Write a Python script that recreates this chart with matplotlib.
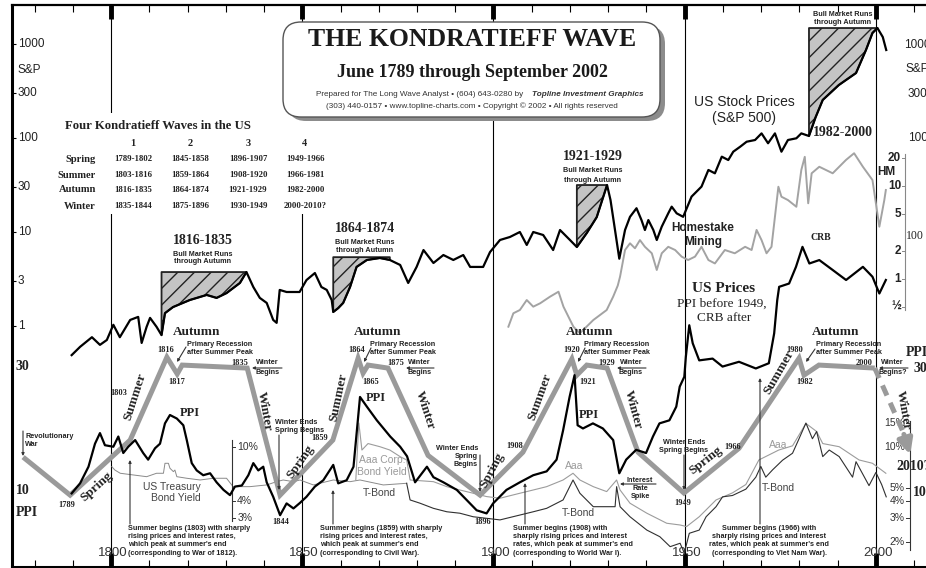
import numpy as np
import matplotlib.pyplot as plt
from matplotlib.patches import FancyBboxPatch, FancyArrowPatch, Rectangle
from matplotlib.transforms import IdentityTransform
from matplotlib.ticker import NullLocator

# ---- data ----
sp_years = [1789.7, 1791.9, 1795.0, 1797.1, 1798.9, 1800.6, 1802.3, 1805.0, 1807.1, 1808.0,
            1809.3, 1810.2, 1811.9, 1813.2, 1814.1, 1816.2, 1820.6, 1825.0, 1827.6, 1830.2,
            1833.7, 1835.4, 1837.2, 1838.9, 1840.7, 1842.4, 1843.3, 1844.1, 1845.9, 1849.3,
            1851.1, 1853.3, 1855.0, 1856.4, 1857.7, 1858.1, 1859.4, 1860.7, 1862.5, 1864.2,
            1866.9, 1870.3, 1872.9, 1875.6, 1877.7, 1879.9, 1881.7, 1884.3, 1886.9, 1889.5,
            1892.1, 1893.9, 1897.3, 1899.1, 1901.7, 1904.3, 1906.9, 1908.7, 1910.4, 1913.0,
            1915.6, 1917.4, 1920.0, 1921.8, 1924.4, 1927.0, 1929.7, 1930.6, 1931.5, 1932.9,
            1934.4, 1935.7, 1937.4, 1938.7, 1939.6, 1940.5, 1941.8, 1942.7, 1944.0, 1945.7,
            1946.6, 1947.9, 1949.6, 1951.8, 1954.4, 1956.2, 1957.9, 1959.7, 1961.4, 1962.7,
            1964.5, 1966.2, 1968.4, 1970.1, 1971.8, 1973.6, 1975.3, 1977.0, 1979.2, 1980.5,
            1982.5, 1984.2, 1986.1, 1990.3, 1994.8, 1997.4, 1999.1, 2000.4, 2001.8, 2002.7]
sp_vals = [0.49, 0.60, 0.76, 0.63, 0.71, 1.03, 0.76, 1.16, 1.25, 0.66,
           0.98, 1.22, 0.98, 0.80, 1.37, 1.59, 1.89, 2.14, 1.99, 2.24,
           2.87, 3.75, 2.60, 1.99, 1.76, 1.16, 1.08, 2.42, 2.30, 2.30,
           3.08, 3.66, 2.60, 2.42, 1.89, 1.41, 1.55, 1.76, 2.60, 4.25,
           5.04, 5.29, 5.04, 4.46, 2.87, 4.25, 6.43, 4.68, 5.69, 5.04,
           5.69, 4.25, 4.25, 6.12, 8.22, 8.85, 10.0, 7.28, 10.0, 9.29,
           6.43, 10.5, 8.22, 6.92, 9.76, 14.4, 31.6, 21.9, 12.5, 5.2,
           10.5, 14.5, 17.9, 13.4, 10.5, 13.4, 10.5, 8.22, 11.4, 15.8,
           18.6, 15.8, 14.5, 23.8, 30.4, 45.7, 42.1, 63.3, 58.3, 71.5,
           80.7, 91.3, 95.2, 112, 87.9, 112, 71.5, 95.2, 99.3, 112,
           105, 165, 254, 366, 491, 863, 1309, 1479, 1186, 863]

bull_markets = [(1813.2, 1835.4, 3.75), (1858.1, 1872.9, 5.4),
                (1921.8, 1929.7, 31.6), (1982.5, 2000.4, 1479)]

ppi_years = [1789.7, 1791.9, 1794.1, 1795.8, 1797.1, 1798.4, 1800.6, 1801.9, 1803.2, 1804.5,
             1806.3, 1808.4, 1809.7, 1811.5, 1812.8, 1814.1, 1815.4, 1817.2, 1818.9, 1819.8,
             1821.1, 1822.4, 1824.1, 1825.9, 1827.6, 1829.4, 1831.1, 1832.4, 1834.2, 1835.9,
             1837.2, 1838.5, 1839.8, 1840.7, 1842.4, 1844.2, 1845.9, 1847.7, 1849.4, 1851.1,
             1853.3, 1855.5, 1858.1, 1859.4, 1861.6, 1863.4, 1865.1, 1866.9, 1869.5, 1873.0,
             1875.6, 1877.4, 1879.5, 1882.6, 1884.3, 1886.9, 1890.4, 1893.0, 1895.6, 1898.2,
             1899.9, 1903.4, 1906.9, 1910.4, 1913.9, 1916.5, 1918.2, 1919.9, 1921.2, 1922.0,
             1923.4, 1926.0, 1928.6, 1931.3, 1932.9, 1934.7, 1937.3, 1939.9, 1941.7, 1943.4,
             1946.0, 1947.8, 1948.7, 1949.9, 1950.3, 1951.2, 1952.1, 1953.8, 1957.3, 1959.9,
             1964.2, 1968.6, 1972.0, 1973.4, 1974.2, 1974.7, 1977.3, 1979.1, 1980.8, 1982.6,
             1985.2, 1988.7, 1992.2, 1996.6, 1999.1, 2000.9, 2002.6]
ppi_vals = [9.79, 10.7, 12.4, 15.2, 16.7, 15.0, 14.8, 16.2, 14.0, 14.8,
            15.7, 14.0, 13.2, 14.6, 15.2, 18.2, 19.6, 19.0, 17.9, 15.7,
            12.8, 12.0, 11.5, 11.7, 10.8, 10.1, 9.64, 10.4, 10.5, 11.5,
            12.8, 12.0, 12.4, 10.8, 9.50, 8.07, 8.96, 8.57, 9.0, 9.5,
            10.4, 11.0, 12.6, 10.7, 11.0, 12.4, 23.0, 21.1, 18.7, 16.2,
            14.8, 13.6, 10.8, 12.4, 11.3, 10.8, 10.1, 9.23, 8.43, 8.20,
            8.96, 10.1, 10.8, 11.5, 11.9, 13.2, 17.1, 23.0, 27.9, 17.9,
            17.4, 18.2, 17.4, 15.7, 11.7, 13.2, 14.4, 14.0, 16.2, 18.2,
            18.7, 21.1, 25.2, 27.5, 32.8, 43.4, 37.0, 31.8, 32.3, 30.1,
            31.4, 29.6, 31.0, 40.4, 54.2, 61.0, 62.8, 72.8, 86.9, 75.0,
            77.3, 70.8, 64.8, 72.8, 66.7, 57.5, 64.8]

wave_years = [1777.0, 1789.3, 1805.0, 1814.6, 1817.3, 1818.6, 1835.6, 1844.2, 1858.0, 1864.6,
              1865.9, 1867.2, 1872.4, 1882.9, 1896.5, 1907.7, 1920.5, 1921.8, 1924.4, 1929.7,
              1937.8, 1949.8, 1964.2, 1979.9, 1981.2, 1985.1, 1999.7]
wave_vals = [13.5, 9.64, 15.7, 32.7, 28.2, 30.5, 29.7, 9.64, 15.7, 32.4,
             28.4, 30.5, 29.7, 13.7, 9.64, 14.1, 32.2, 27.9, 30.5, 29.7,
             14.1, 9.82, 14.6, 32.4, 27.9, 30.5, 29.7]
forecast_years = [1999.7, 2007.1, 2009.2]
forecast_vals = [29.7, 16.9, 13.5]

treasury_years = [1800.2, 1801.0, 1802.4, 1805.8, 1809.3, 1811.9, 1813.7, 1814.1, 1815.0, 1815.4,
                  1816.3, 1816.7, 1817.2, 1819.8, 1823.3, 1826.7, 1830.2, 1831.9, 1836.3, 1840.7,
                  1843.3, 1845.0, 1847.7, 1849.4, 1852.9, 1854.6, 1858.1, 1862.5, 1865.1, 1871.2,
                  1877.3]
treasury_vals = [7.17, 6.77, 6.41, 6.23, 6.05, 6.41, 6.41, 7.59, 7.59, 6.98,
                 6.59, 6.77, 6.05, 5.89, 5.72, 5.89, 5.89, 5.11, 5.11, 5.26,
                 5.56, 5.72, 5.56, 5.72, 5.26, 5.41, 5.72, 5.56, 5.72, 5.26,
                 5.41]

tbond_years = [1877.3, 1878.2, 1880.8, 1884.3, 1887.8, 1891.2, 1894.7, 1898.2, 1901.7, 1903.4,
               1906.9, 1910.4, 1913.9, 1918.2, 1920.8, 1922.6, 1926.1, 1929.6, 1931.8, 1932.2,
               1933.1, 1935.7, 1940.1, 1943.5, 1946.2, 1948.8, 1949.9, 1951.2, 1953.8, 1955.6,
               1958.2, 1959.9, 1962.5, 1966.0, 1968.6, 1969.9, 1971.2, 1973.0, 1975.6, 1978.2,
               1979.9, 1981.7, 1983.4, 1984.5, 1986.1, 1987.8, 1990.4, 1993.9, 1994.8, 1998.2,
               2000.0, 2001.5, 2002.7]
tbond_vals = [5.41, 4.08, 3.86, 3.54, 3.34, 3.26, 3.07, 2.99, 2.91, 2.99,
              3.16, 3.34, 3.54, 4.08, 5.72, 4.57, 3.64, 3.64, 3.64, 5.11,
              3.64, 3.07, 2.45, 2.19, 1.85, 1.96, 1.66, 2.32, 2.45, 3.07,
              3.64, 4.3, 4.4, 4.9, 6.0, 7.2, 6.0, 6.8, 8.0, 9.0,
              11.5, 15.0, 11.5, 13.0, 8.5, 9.5, 8.5, 6.0, 7.8, 5.2,
              6.5, 5.3, 4.3]

aaa_years = [1864.0, 1864.8, 1865.6, 1867.2, 1870.3, 1872.9, 1875.6, 1877.3, 1878.2, 1884.3,
             1887.8, 1891.2, 1894.7, 1898.2, 1901.7, 1906.9, 1910.4, 1913.9, 1918.2, 1920.8,
             1922.6, 1926.1, 1929.6, 1932.2, 1933.1, 1935.7, 1940.1, 1945.3, 1948.8, 1950.5,
             1953.8, 1958.2, 1962.5, 1966.0, 1969.4, 1974.6, 1978.2, 1981.7, 1984.5, 1986.1,
             1990.4, 1995.6, 1999.1, 2002.6]
aaa_vals = [5.72, 15.0, 9.5, 10.6, 10.05, 9.5, 8.49, 8.03, 5.72, 5.56,
            5.11, 4.83, 4.57, 4.32, 4.20, 4.57, 4.83, 5.11, 5.72, 6.41,
            5.72, 5.11, 4.70, 5.72, 4.83, 3.86, 3.26, 2.75, 2.67, 2.60,
            3.07, 4.08, 4.6, 5.3, 8.03, 9.5, 10.2, 14.9, 13.0, 10.6,
            10.05, 8.03, 7.59, 6.41]

hm_years = [1903.9, 1905.2, 1906.9, 1908.7, 1910.4, 1912.2, 1914.8, 1917.0, 1918.3, 1920.9,
            1922.6, 1926.1, 1929.6, 1931.3, 1932.5, 1933.1, 1934.4, 1935.7, 1937.0, 1938.3,
            1939.6, 1941.4, 1942.7, 1944.0, 1945.7, 1947.5, 1949.2, 1950.9, 1952.7, 1954.4,
            1956.2, 1957.9, 1960.5, 1963.1, 1965.8, 1967.5, 1968.8, 1970.1, 1971.4, 1972.7,
            1974.5, 1975.3, 1977.0, 1979.2, 1980.5, 1981.4, 1982.3, 1983.2, 1985.2, 1988.7,
            1992.2, 1994.3, 1996.6, 1999.1, 2000.9, 2002.2, 2002.6]
hm_vals = [0.307, 0.428, 0.464, 0.594, 0.504, 0.548, 0.646, 0.730, 0.504, 0.307,
           0.261, 0.362, 0.464, 0.646, 0.85, 1.06, 2.05, 2.42, 2.14, 2.62,
           2.22, 1.89, 1.25, 1.89, 2.22, 2.05, 1.74, 1.60, 1.74, 2.22,
           1.60, 1.47, 2.05, 1.89, 2.22, 2.05, 3.37, 2.62, 1.89, 2.22,
           9.82, 7.67, 7.06, 5.98, 14.9, 20.6, 6.52, 13.7, 16.1, 13.7,
           19.1, 22.5, 16.1, 11.6, 3.65, 7.06, 9.06]

table_cols = ['1', '2', '3', '4']
table_rows = ['Spring', 'Summer', 'Autumn', 'Winter']
table_cells = [['1789-1802', '1845-1858', '1896-1907', '1949-1966'],
               ['1803-1816', '1859-1864', '1908-1920', '1966-1981'],
               ['1816-1835', '1864-1874', '1921-1929', '1982-2000'],
               ['1835-1844', '1875-1896', '1930-1949', '2000-2010?']]

# ---- layout ----
W, H = 926, 568
fig = plt.figure(figsize=(W / 100, H / 100), dpi=100)
rect = [12 / W, 1 - 567 / H, 914 / W, 562 / H]

SERIF_B = dict(family='Liberation Serif', weight='bold')
SERIF = dict(family='Liberation Serif')
SANS_B = dict(family='Liberation Sans', weight='bold')
SANS = dict(family='Liberation Sans')
INK = '#222222'


def ylim_for(v, y_px, px_dec):
    a = np.log10(v) + y_px / px_dec
    return 10 ** (a - 567 / px_dec), 10 ** (a - 5 / px_dec)


def put(x, y, s, size=5.2, ha='center', va='center', style=SANS_B, color=INK, **kw):
    fig.text(x / W, 1 - y / H, s, fontsize=size, ha=ha, va=va, color=color, **style, **kw)


def arrow(x0, y0, x1, y1, head=True, color='#333333', lw=0.8, ms=4):
    fig.add_artist(FancyArrowPatch((x0, H - y0), (x1, H - y1), transform=IdentityTransform(),
                                   arrowstyle='-|>' if head else '-', mutation_scale=ms,
                                   color=color, lw=lw, shrinkA=0, shrinkB=0, zorder=3))


ax = fig.add_axes(rect)
ax_y = fig.add_axes(rect, sharex=ax)
ax_hm = fig.add_axes(rect, sharex=ax)
ax_ppi = fig.add_axes(rect, sharex=ax)
for a in (ax, ax_y, ax_hm, ax_ppi):
    a.set_yscale('log')
for a in (ax_y, ax_hm, ax_ppi):
    a.set_axis_off()
ax.set_xlim(1774.1, 2013.1)
ax.set_ylim(*ylim_for(1000, 44, 94))
ax_ppi.set_ylim(*ylim_for(10, 491, 260))
ax_y.set_ylim(*ylim_for(10, 447, 136))
ax_hm.set_ylim(*ylim_for(10, 186, 93))

# frame and ticks
ax.spines['right'].set_visible(False)
ax.spines['left'].set_linewidth(2.2)
ax.spines['bottom'].set_linewidth(2.2)
ax.spines['top'].set_linewidth(1.6)
ax.set_xticks([1800, 1850, 1900, 1950, 2000])
ax.set_xticks(np.arange(1780, 2011, 10), minor=True)
ax.tick_params(axis='x', which='both', direction='in', top=True, labelbottom=False)
ax.tick_params(axis='x', which='major', length=10, width=3.5)
ax.tick_params(axis='x', which='minor', length=5, width=0.8)
ax.set_yticks([1, 3, 10, 30, 100, 300, 1000])
ax.yaxis.set_minor_locator(NullLocator())
ax.tick_params(axis='y', direction='in', length=3, width=0.8, labelleft=False)
for yr in [1800, 1850, 1900, 1950, 2000]:
    ax.axvline(yr, color='k', lw=0.8, zorder=0.5)

# S&P 500 with bull-market shading
sy = np.array(sp_years)
sv = np.array(sp_vals)
for start, end, top in bull_markets:
    m = (sy >= start) & (sy <= end)
    ax.fill_between(sy[m], sv[m], top, facecolor='#c4c4c4', edgecolor='#222222',
                    hatch='//', lw=1.3, zorder=1.5)
ax.plot(sp_years, sp_vals, color='k', lw=1.6, zorder=2)

# yields
ax_y.plot(treasury_years, treasury_vals, color='#8a8a8a', lw=0.7)
ax_y.plot(aaa_years, aaa_vals, color='#9c9c9c', lw=0.8)
ax_y.plot(tbond_years, tbond_vals, color='#303030', lw=0.8)

# Homestake Mining
ax_hm.plot(hm_years, hm_vals, color='#a3a3a3', lw=1.4)

# idealised wave and US prices
ax_ppi.plot(wave_years, wave_vals, color='#9a9a9a', lw=3.6, solid_joinstyle='miter',
            solid_capstyle='butt')
ax_ppi.plot(forecast_years[:2], forecast_vals[:2], color='#9a9a9a', lw=3.6, ls=(0, (2.2, 1.6)))
ax_ppi.annotate('', xy=(forecast_years[2], forecast_vals[2]),
                xytext=(forecast_years[1], forecast_vals[1]),
                arrowprops=dict(arrowstyle='-|>', color='#9a9a9a', lw=3.6, mutation_scale=22))
ax_ppi.plot(ppi_years, ppi_vals, color='k', lw=1.6)

# axis labels (S&P, PPI, yields, HM)
ytr = ax.get_yaxis_transform()
for v, s in [(1000, '1000'), (300, '300'), (100, '100'), (30, '30'), (10, '10'), (3, '3'), (1, '1')]:
    ax.text(6 / 914, v, s, transform=ytr, fontsize=8.5, ha='left', va='center', color=INK, **SANS)
put(17, 70, 'S&P', 8.5, ha='left', style=SANS)
ptr = ax_ppi.get_yaxis_transform()
for v in [30, 10]:
    ax_ppi.text(4 / 914, v, str(v), transform=ptr, fontsize=10, ha='left', va='center',
                color=INK, **SERIF_B)
put(16, 513, 'PPI', 10, ha='left', style=SERIF_B)

for v in [10, 4, 3]:
    ax_y.text(1833.0, v, f'{v}%', fontsize=7.5, ha='left', va='center', color='#333333', **SANS)
    ax_y.plot([1831.5, 1832.5], [v, v], color='#333333', lw=0.7)
ax_y.plot([1831.5, 1831.5], [2.85, 11.2], color='#333333', lw=0.8)
for v in [15, 10, 5, 4, 3, 2]:
    ax_y.text(2007.6, v, f'{v}%', fontsize=7.5, ha='right', va='center', color='#333333', **SANS)
    ax_y.plot([2007.8, 2008.8], [v, v], color='#333333', lw=0.7)
ax_y.plot([2008.8, 2008.8], [1.75, 15.5], color='#333333', lw=0.8)

for v, s in [(20, '20'), (10, '10'), (5, '5'), (2, '2'), (1, '1'), (0.5, '½')]:
    ax_hm.text(2006.6, v, s, fontsize=8.5, ha='right', va='center', color=INK, **SANS_B)
    ax_hm.plot([2006.9, 2007.6], [v, v], color='#888888', lw=0.7)
ax_hm.plot([2007.6, 2007.6], [0.46, 22], color='#888888', lw=0.8)
put(886, 172, 'HM', 8.5, style=SANS_B)

# right edge labels (cut by the frame, as in the original)
put(904, 45, '1000', 8.5, ha='left', style=SANS)
put(906, 69, 'S&P', 8.5, ha='left', style=SANS)
put(908, 94, '300', 8.5, ha='left', style=SANS)
put(908, 138, '100', 8.5, ha='left', style=SANS)
put(906, 236, '100', 8.5, ha='left', style=SERIF)
put(906, 352, 'PPI', 10, ha='left', style=SERIF_B)
put(913, 368, '30', 10, ha='left', style=SERIF_B)
put(896, 466, '2010?', 10, ha='left', style=SERIF_B)
put(913, 492, '10', 10, ha='left', style=SERIF_B)

# bottom year labels
for yr, xp in [(1800, 113), (1850, 304), (1900, 496), (1950, 687), (2000, 878)]:
    put(xp, 553, str(yr), 9.5, style=SANS, color='#333333')

# title box
fig.add_artist(FancyBboxPatch((288, H - 121), 377, 95, boxstyle='round,pad=0,rounding_size=18',
                              transform=IdentityTransform(), facecolor='#8c8c8c',
                              edgecolor='none', zorder=2.4))
fig.add_artist(FancyBboxPatch((283, H - 117), 377, 95, boxstyle='round,pad=0,rounding_size=18',
                              transform=IdentityTransform(), facecolor='white',
                              edgecolor='#555555', lw=1.0, zorder=2.5))
put(472, 39, 'THE KONDRATIEFF WAVE', 18.5, style=SERIF_B, color='#1a1a1a')
put(472, 72, 'June 1789 through September 2002', 13, style=SERIF_B, color='#1a1a1a')
put(526, 95, 'Prepared for The Long Wave Analyst • (604) 643-0280 by ', 5.9, ha='right',
    style=SANS, color='#333333')
put(644, 95, 'Topline Investment Graphics', 5.9, ha='right', style=SANS_B, color='#333333',
    fontstyle='italic')
put(472, 106, '(303) 440-0157 • www.topline-charts.com • Copyright © 2002 • All rights reserved',
    5.9, style=SANS, color='#333333')

# table of the four waves
fig.add_artist(Rectangle((50, H - 214), 278, 101, transform=IdentityTransform(),
                         facecolor='white', edgecolor='none', zorder=2))
put(158, 126, 'Four Kondratieff Waves in the US', 9.2, style=SERIF_B)
col_x = [133, 190, 248, 305]
row_y = [159, 175, 190, 206]
for cx, c in zip(col_x, table_cols):
    put(cx, 143, c, 7.5, style=SERIF_B)
for ry, r, cells in zip(row_y, table_rows, table_cells):
    put(96, ry, r, 7.6, ha='right', style=SERIF_B)
    for cx, cell in zip(col_x, cells):
        put(cx, ry, cell, 6.3, style=SERIF_B)

# bull market labels
put(203, 241, '1816-1835', 10, style=SERIF_B)
put(203, 254, 'Bull Market Runs', 5.2)
put(203, 262, 'through Autumn', 5.2)
put(365, 228, '1864-1874', 10, style=SERIF_B)
put(365, 243, 'Bull Market Runs', 5.2)
put(365, 251, 'through Autumn', 5.2)
put(593, 157, '1921-1929', 10, style=SERIF_B)
put(593, 171, 'Bull Market Runs', 5.2)
put(593, 180, 'through Autumn', 5.2)
put(843, 14, 'Bull Market Runs', 5.2)
put(843, 23, 'through Autumn', 5.2)
put(843, 133, '1982-2000', 10, style=SERIF_B)
put(744, 102, 'US Stock Prices', 10, style=SANS)
put(744, 118, '(S&P 500)', 10, style=SANS)
put(703, 228, 'Homestake', 8.5, style=SANS_B)
put(703, 242, 'Mining', 8.5, style=SANS_B)
put(821, 238, 'CRB', 7, style=SERIF_B)
put(724, 288, 'US Prices', 11, style=SERIF_B)
put(722, 304, 'PPI before 1949,', 9.5, style=SERIF)
put(724, 318, 'CRB after', 9.5, style=SERIF)

# season labels along the wave
seasons = [('Spring', 97, 487, 42), ('Summer', 135, 397, 72), ('Winter', 264, 411, -80),
           ('Spring', 300, 462, 55), ('Summer', 338, 397, 78), ('Winter', 425, 410, -72),
           ('Spring', 492, 470, 62), ('Summer', 540, 397, 70), ('Winter', 633, 410, -75),
           ('Spring', 706, 460, 38), ('Summer', 779, 372, 60), ('Winter', 903, 410, -80)]
for s, x, y, rot in seasons:
    put(x, y, s, 9.5, style=SERIF_B, rotation=rot, rotation_mode='anchor')
for x in [197, 378, 590, 836]:
    put(x, 332, 'Autumn', 9.5, style=SERIF_B)

# years on the wave
for s, x, y in [('1789', 67, 505), ('1803', 119, 393), ('1816', 166, 350), ('1817', 177, 382),
                ('1835', 240, 363), ('1844', 281, 522), ('1859', 320, 438), ('1864', 357, 350),
                ('1865', 371, 382), ('1875', 396, 363), ('1896', 483, 522), ('1908', 515, 446),
                ('1920', 572, 350), ('1921', 588, 382), ('1929', 607, 363), ('1949', 683, 503),
                ('1966', 733, 447), ('1980', 795, 350), ('1982', 805, 382), ('2000', 864, 363)]:
    put(x, y, s, 6, style=SERIF_B)

# recession / winter notes
for x in [187, 370, 584, 816]:
    put(x, 344, 'Primary Recession', 5.2, ha='left')
    put(x, 352, 'after Summer Peak', 5.2, ha='left')
for x0, y0, x1, y1 in [(186, 347, 177, 362), (371, 348, 364, 362), (585, 348, 578, 362),
                       (815, 349, 806, 362)]:
    arrow(x0, y0, x1, y1)
for x, s in [(267, 'Winter'), (419, 'Winter'), (631, 'Winter'), (892, 'Winter')]:
    put(x, 363, s, 5.2)
for x, s in [(268, 'Begins'), (420, 'Begins'), (631, 'Begins'), (893, 'Begins?')]:
    put(x, 372, s, 5.2)
for x0, x1 in [(282, 252), (434, 406), (646, 617), (908, 879)]:
    arrow(x0, 368, x1, 368)

put(25, 436, 'Revolutionary', 5.2, ha='left')
put(25, 445, 'War', 5.2, ha='left')
arrow(23, 431, 23, 456)
put(275, 422, 'Winter Ends', 5.2, ha='left')
put(275, 430, 'Spring Begins', 5.2, ha='left')
arrow(279, 435, 279, 490)
put(478, 448, 'Winter Ends', 5.2, ha='right')
put(478, 457, 'Spring', 5.2, ha='right')
put(478, 465, 'Begins', 5.2, ha='right')
arrow(480, 455, 480, 492)
put(684, 442, 'Winter Ends', 5.2)
put(684, 450, 'Spring Begins', 5.2)
arrow(684, 455, 684, 490)
put(640, 480, 'Interest', 5.2)
put(640, 488, 'Rate', 5.2)
put(640, 497, 'Spike', 5.2)
arrow(656, 484, 620, 484)

summer_notes = [
    (128, 'left', ['Summer begins (1803) with sharply', 'rising prices and interest rates,',
                   "which peak at summer's end", '(corresponding to War of 1812).']),
    (320, 'left', ['Summer begins (1859) with sharply', 'rising prices and interest rates,',
                   "which peak at summer's end", '(corresponding to Civil War).']),
    (513, 'left', ['Summer begins (1908) with', 'sharply rising prices and interest',
                   "rates, which peak at summer's end", '(corresponding to World War I).']),
    (769, 'center', ['Summer begins (1966) with', 'sharply rising prices and interest',
                     "rates, which peak at summer's end", '(corresponding to Viet Nam War).']),
]
for x, ha, lines in summer_notes:
    for i, line in enumerate(lines):
        put(x, 528 + 8.4 * i, line, 5.2, ha=ha)
for x, ytop in [(130, 460), (333, 490), (525, 483), (760, 378)]:
    arrow(x, 524, x, ytop)

# series names near the lines
put(190, 413, 'PPI', 9, style=SERIF_B)
put(376, 398, 'PPI', 9, style=SERIF_B)
put(589, 415, 'PPI', 9, style=SERIF_B)
put(172, 487, 'US Treasury', 7.5, style=SANS, color='#444444')
put(176, 498, 'Bond Yield', 7.5, style=SANS, color='#444444')
put(382, 460, 'Aaa Corp.', 7.5, style=SANS, color='#9a9a9a')
put(382, 472, 'Bond Yield', 7.5, style=SANS, color='#9a9a9a')
put(379, 493, 'T-Bond', 7.5, style=SANS, color='#444444')
put(574, 466, 'Aaa', 7.5, style=SANS, color='#9a9a9a')
put(578, 513, 'T-Bond', 7.5, style=SANS, color='#444444')
put(778, 445, 'Aaa', 7.5, style=SANS, color='#9a9a9a')
put(778, 488, 'T-Bond', 7.5, style=SANS, color='#444444')

fig.savefig('out.png', dpi=100)
